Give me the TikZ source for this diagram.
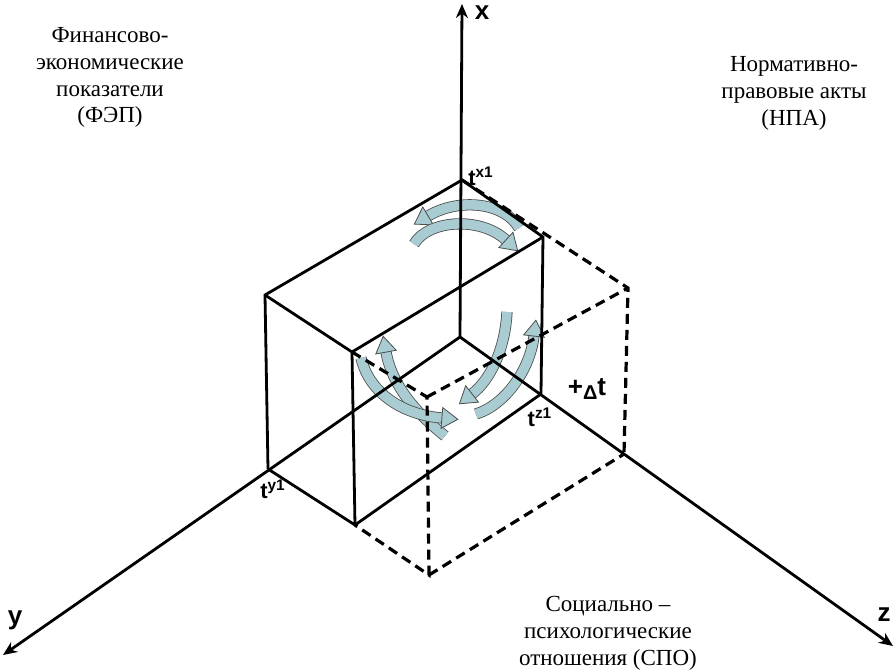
\documentclass[tikz,border=0pt]{standalone}
\usepackage{fontspec}
\setmainfont{Liberation Serif}
\setsansfont{Liberation Sans}
\usetikzlibrary{arrows.meta, decorations.markings}
\definecolor{arrowfill}{RGB}{168,204,210}

\begin{document}
\begin{tikzpicture}[
  x=0.5pt, y=-0.5pt,
  axis/.style={-{Stealth[length=7pt, width=6pt]}, line width=1.4pt},
  boxline/.style={line width=1.4pt},
  hiddenline/.style={line width=1.6pt, dash pattern=on 5pt off 3pt},
  caption/.style={align=center, inner sep=0pt, font=\fontsize{11.5}{13.4}\selectfont},
  axlabel/.style={inner sep=0pt, font=\sffamily\bfseries\fontsize{13}{15}\selectfont},
  tlabel/.style={inner sep=0pt, font=\sffamily\bfseries\fontsize{11}{13}\selectfont},
  turn/.style={
    draw=arrowfill, line width=4.8pt,
    preaction={draw=black!70, line width=5.6pt},
    postaction={decorate, decoration={markings, mark=at position 0.999 with {
      \filldraw[fill=arrowfill, draw=black!70, line width=0.4pt]
        (0,-5.2pt) -- (8pt,0) -- (0,5.2pt) -- cycle;}}}
  }
]
\useasboundingbox (0,0) rectangle (896,670);

\coordinate (O) at (460,337);
\coordinate (xtip) at (462,4);
\coordinate (ytip) at (3,655);
\coordinate (ztip) at (893,646);
\coordinate (x1) at (462,180);
\coordinate (y1) at (268,469);
\coordinate (z1) at (541,394);
\coordinate (z2) at (624,454);
\coordinate (xy) at (265,295);
\coordinate (xz) at (543,237);
\coordinate (xyz) at (352,352);
\coordinate (yz) at (355,525);
\coordinate (xz2) at (628,288);
\coordinate (xyz2) at (427,397);
\coordinate (yz2) at (429,575);

\draw[turn] (519,228) .. controls (505,203) and (460,197) .. (428,216);
\draw[turn] (414,244) .. controls (428,220) and (480,216) .. (506,240);
\draw[turn] (445,436) .. controls (415,412) and (392,385) .. (386,352);
\draw[turn] (361,358) .. controls (370,395) and (405,415) .. (442,418);
\draw[turn] (507,312) .. controls (505,350) and (490,380) .. (472,394);
\draw[turn] (476,414) .. controls (505,405) and (530,370) .. (534,336);

\draw[axis] (O) -- (xtip);
\draw[axis] (O) -- (ytip);
\draw[axis] (O) -- (ztip);

\draw[boxline] (y1) -- (xy) -- (x1) -- (xz) -- (z1);
\draw[boxline] (xy) -- (xyz) -- (yz) -- (y1);
\draw[boxline] (xyz) -- (xz);
\draw[boxline] (yz) -- (z1);

\draw[hiddenline] (x1) -- (xz2) -- (z2);
\draw[hiddenline] (xyz) -- (xyz2) -- (yz2) -- (yz);
\draw[hiddenline] (xyz2) -- (xz2);
\draw[hiddenline] (yz2) -- (z2);

\node[axlabel] (xlab) at (482,13) {x};
\node[axlabel] (ylab) at (15,620) {y};
\node[axlabel] (zlab) at (884,615) {z};

\node[tlabel] (tx1) at (481,176) {t\textsuperscript{x1}};
\node[tlabel] (ty1) at (273,489) {t\textsuperscript{y1}};
\node[tlabel] (tz1) at (540,417) {t\textsuperscript{z1}};
\node[tlabel, font=\sffamily\bfseries\fontsize{13}{15}\selectfont] (dt) at (587,389) {+\raisebox{-0.35ex}{\fontsize{10}{12}\selectfont Δ}t};

\node[caption, anchor=north] (fep) at (110,27) {Финансово-\\экономические\\показатели\\(ФЭП)};
\node[caption, anchor=north] (npa) at (794,56) {Нормативно-\\правовые акты\\(НПА)};
\node[caption, anchor=north] (spo) at (608,596) {Социально –\\психологические\\отношения (СПО)};
\end{tikzpicture}
\end{document}
